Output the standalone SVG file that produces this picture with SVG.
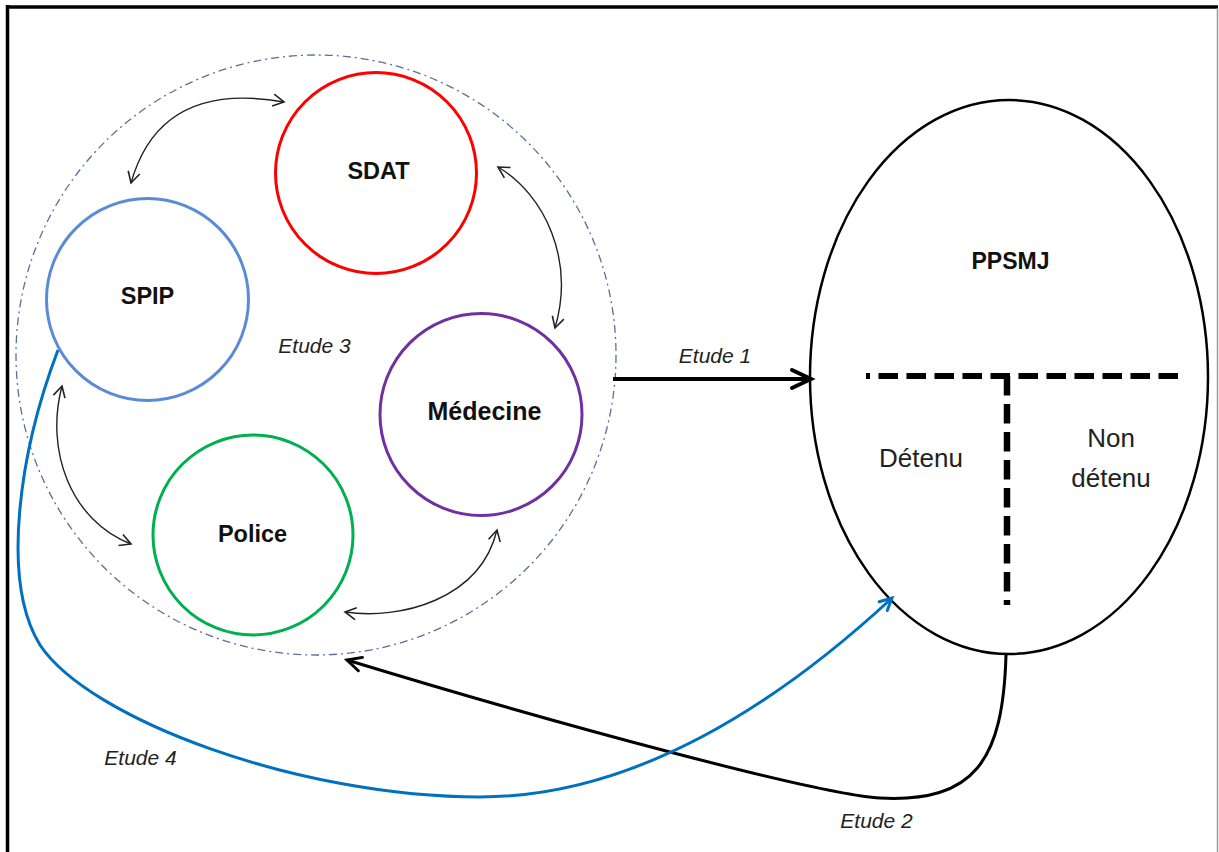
<svg xmlns="http://www.w3.org/2000/svg" width="1219" height="852" viewBox="0 0 1219 852">
<style>
.lbl{font-family:"Liberation Sans",Arial,sans-serif;font-weight:bold;text-anchor:middle;fill:#111}
.reg{font-family:"Liberation Sans",Arial,sans-serif;text-anchor:middle;fill:#222;font-size:26px}
.et{font-family:"Liberation Sans",Arial,sans-serif;font-style:italic;text-anchor:middle;fill:#222;font-size:21px}
.node{fill:none;stroke-width:3}
.thin{fill:none;stroke:#222;stroke-width:1.4;marker-start:url(#sm);marker-end:url(#sm)}
</style>
<defs>
<marker id="sm" markerUnits="userSpaceOnUse" orient="auto-start-reverse" refX="0" refY="0" markerWidth="30" markerHeight="30" viewBox="-15 -15 30 30" overflow="visible">
<path d="M-11,-6 L0,0 L-11,6" fill="none" stroke="#222" stroke-width="1.6" stroke-linejoin="miter"/>
</marker>
<marker id="big" markerUnits="userSpaceOnUse" orient="auto" refX="0" refY="0" markerWidth="40" markerHeight="40" viewBox="-20 -20 40 40" overflow="visible">
<path d="M-19,-9 L0,0 L-19,9" fill="none" stroke="#000" stroke-width="4" stroke-linecap="round"/>
</marker>
<marker id="mid" markerUnits="userSpaceOnUse" orient="auto" refX="0" refY="0" markerWidth="40" markerHeight="40" viewBox="-20 -20 40 40" overflow="visible">
<path d="M-14,-7 L0,0 L-14,7" fill="none" stroke="#000" stroke-width="3" stroke-linecap="round"/>
</marker>
<marker id="blu" markerUnits="userSpaceOnUse" orient="auto" refX="0" refY="0" markerWidth="40" markerHeight="40" viewBox="-20 -20 40 40" overflow="visible">
<path d="M-12,-6 L0,0 L-12,6" fill="none" stroke="#0070C0" stroke-width="3" stroke-linecap="round"/>
</marker>
</defs>
<rect width="1219" height="852" fill="#fff"/>
<g id="frame">
<line x1="7.5" y1="5" x2="7.5" y2="852" stroke="#000" stroke-width="3.5"/>
<line x1="6" y1="7" x2="1218" y2="7" stroke="#000" stroke-width="3.5"/>
<line x1="1217.5" y1="8" x2="1217.5" y2="852" stroke="#999" stroke-width="1.5"/>
</g>
<g id="group-circle">
<circle cx="316" cy="355" r="300" fill="none" stroke="#56719A" stroke-width="1.3" stroke-dasharray="8 4 2 4"/>
</g>
<g id="sdat">
<circle class="node" cx="376" cy="173" r="100.5" stroke="#FF0000"/>
<text class="lbl" x="378.5" y="179" font-size="23.5">SDAT</text>
</g>
<g id="spip">
<circle class="node" cx="147.5" cy="299.5" r="101" stroke="#5B8BD6"/>
<text class="lbl" x="147.5" y="304" font-size="23.5">SPIP</text>
</g>
<g id="police">
<circle class="node" cx="253" cy="535" r="100" stroke="#00B050"/>
<text class="lbl" x="252.5" y="542" font-size="23.5">Police</text>
</g>
<g id="medecine">
<circle class="node" cx="481" cy="414.5" r="101" stroke="#7030A0"/>
<text class="lbl" x="484.5" y="420" font-size="25">Médecine</text>
</g>
<g id="ppsmj">
<ellipse cx="1009" cy="377" rx="199" ry="277" fill="none" stroke="#000" stroke-width="2.5"/>
<text class="lbl" x="1010.5" y="269" font-size="23">PPSMJ</text>
<line x1="1178" y1="376" x2="866" y2="376" stroke="#000" stroke-width="6" stroke-dasharray="19.5 8.5"/>
<line x1="1007" y1="376" x2="1007" y2="605" stroke="#000" stroke-width="6.5" stroke-dasharray="19.5 8.5"/>
<text class="reg" x="921" y="467">Détenu</text>
<text class="reg" x="1111" y="447">Non</text>
<text class="reg" x="1111" y="487">détenu</text>
</g>
<g id="connectors">
<path class="thin" d="M131,183 Q160,80 284,102"/>
<path class="thin" d="M498,167 C545,195 575,260 555,328"/>
<path class="thin" d="M62,386 C45,450 70,520 131,544"/>
<path class="thin" d="M345,612 C400,620 480,600 497,530"/>
<path d="M613,379 L811,379" fill="none" stroke="#000" stroke-width="4" marker-end="url(#big)"/>
<path d="M1006,655 C1003,760 975,803 880,798 C820,795 560,725 347,660" fill="none" stroke="#000" stroke-width="3" marker-end="url(#mid)"/>
<path d="M58,350 C20,450 0,580 40,645 C90,720 300,797 480,797 C620,797 760,720 892,598" fill="none" stroke="#0070C0" stroke-width="3" marker-end="url(#blu)"/>
</g>
<g id="labels">
<text class="et" x="715" y="363">Etude 1</text>
<text class="et" x="876.5" y="828">Etude 2</text>
<text class="et" x="314.5" y="353">Etude 3</text>
<text class="et" x="140.5" y="765">Etude 4</text>
</g>
</svg>
